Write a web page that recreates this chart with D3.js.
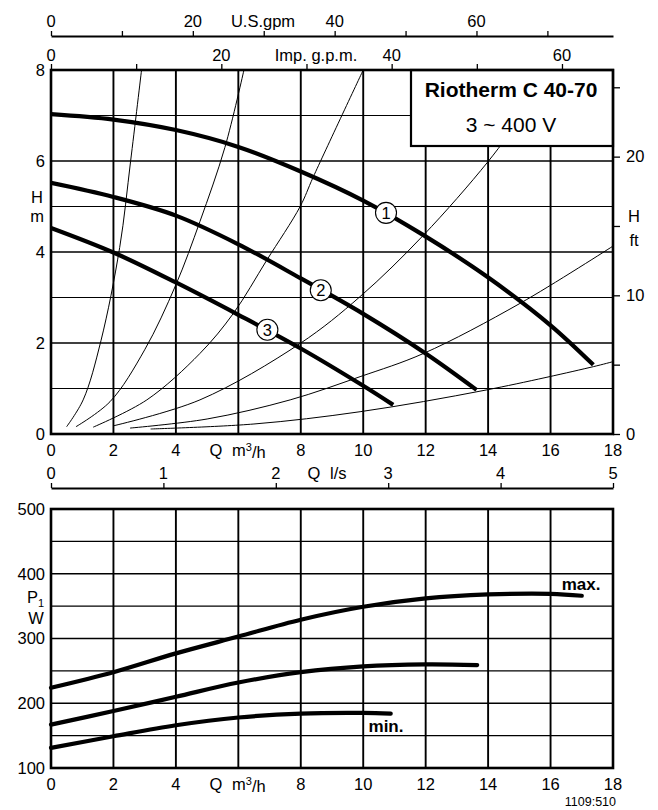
<!DOCTYPE html>
<html>
<head>
<meta charset="utf-8">
<script src="https://cdn.jsdelivr.net/npm/d3@7/dist/d3.min.js"></script>
<style>
    body { margin: 0; background: #fff; }
    svg { display: block; font-family: Arial, "Liberation Sans", Helvetica, sans-serif; }
</style>
</head>
<body>
<div id="chart"></div>
<script>
// --- Veriler ---
const flowTicks = [0, 2, 4, 6, 8, 10, 12, 14, 16, 18];
const flowLabels = ['0', '2', '4', '', '8', '10', '12', '14', '16', '18'];
const headGrid = [1, 2, 3, 4, 5, 6, 7];
const headLabels = [0, 2, 4, 6, 8];
const ftTicks = [0, 5, 10, 15, 20, 25];
const ftLabels = [0, 10, 20];
const usGpmTicks = [0, 10, 20, 30, 40, 50, 60, 70];
const usGpmLabels = [0, 20, 40, 60];
const impGpmTicks = [0, 10, 20, 30, 40, 50, 60];
const impGpmLabels = [0, 20, 40, 60];
const lsTicks = [0, 1, 2, 3, 4, 5];
const lsLabels = ['0', '1', '2', '3', '4', '5'];
const powerGrid = [150, 200, 250, 300, 350, 400, 450];
const powerLabels = [100, 200, 300, 400, 500];

// pompa eğrileri [Q m3/h, H m]
const pumpCurve1 = [[0, 7.03], [2, 6.91], [4, 6.68], [6, 6.31], [8, 5.77], [10, 5.13], [11.93, 4.37], [13.96, 3.46], [15.98, 2.40], [17.37, 1.52]];
const pumpCurve2 = [[0, 5.52], [2, 5.21], [4, 4.80], [6, 4.17], [8, 3.42], [10, 2.64], [12, 1.77], [13.63, 0.97]];
const pumpCurve3 = [[0, 4.53], [2, 3.99], [4, 3.33], [6, 2.62], [8, 1.88], [10, 1.06], [10.96, 0.64]];
const curveMarks = [{ id: '1', q: 10.73, h: 4.86 }, { id: '2', q: 8.64, h: 3.16 }, { id: '3', q: 6.93, h: 2.29 }];

// sistem eğrileri (ince)
const sysCurve1 = [[0.5, 0.16], [1.03, 0.75], [1.6, 2.05], [2.2, 4.1], [2.55, 6.0], [2.9, 8]];
const sysCurve2 = [[0.8, 0.16], [1.89, 0.71], [3, 1.85], [4, 3.28], [4.77, 4.67], [5.57, 6.3], [6.18, 8]];
const sysCurve3 = [[1.35, 0.15], [3.07, 0.75], [4.77, 1.77], [5.84, 2.65], [6.91, 3.82], [7.98, 5.0], [8.4, 5.65], [10.0, 8]];
const sysCurve4 = [[2.0, 0.18], [4.77, 0.75], [7.98, 1.99], [9.9, 3.02], [11.93, 4.37], [13.99, 5.98], [15.2, 7.1], [16.1, 8]];
const sysCurve5 = [[2.53, 0.13], [5, 0.33], [7.66, 0.75], [9.9, 1.26], [11.93, 1.77], [15.02, 2.87], [18, 4.13]];
const sysCurve6 = [[3.19, 0.11], [6.5, 0.22], [9.9, 0.49], [13.96, 0.97], [17.37, 1.48], [18, 1.59]];

// güç eğrileri [Q m3/h, P1 W]
const powerMax = [[0, 224], [2, 248], [4, 277], [6, 303], [8, 329], [10, 349], [12, 362], [14, 368], [16, 369], [17, 366]];
const powerMid = [[0, 167], [2, 188], [4, 210], [6, 232], [8, 248], [10, 257], [12, 260], [13.65, 259]];
const powerMin = [[0, 131], [2, 149], [4, 166], [6, 178], [8, 184], [10, 185], [10.88, 184]];

const FONT = '16.5px';

const svg = d3.select('#chart').append('svg').attr('width', 658).attr('height', 810);

// Ölçekler
const x = d3.scaleLinear().domain([0, 18]).range([51, 613]);
const yH = d3.scaleLinear().domain([0, 8]).range([434, 70]);
const yFt = d3.scaleLinear().domain([0, 8 / 0.3048]).range([434, 70]);
const xImp = d3.scaleLinear().domain([0, 18 * 3.6662]).range([51, 613]);
const xUs = d3.scaleLinear().domain([0, 18 * 4.4029]).range([51, 613]);
const xLs = d3.scaleLinear().domain([0, 5]).range([51, 613]);
const yP = d3.scaleLinear().domain([100, 500]).range([768, 509]);

function label(g, tx, ty, txt, anchor, size, weight) {
    return g.append('text').attr('x', tx).attr('y', ty).attr('dy', '0.35em')
        .attr('text-anchor', anchor || 'middle')
        .style('font-size', size || FONT).style('font-weight', weight || 'normal')
        .attr('fill', '#000').text(txt);
}

/* ---------- Üst grafik: H-Q ---------- */
const topG = svg.append('g');
topG.append('clipPath').attr('id', 'clipTop').append('rect')
    .attr('x', 51).attr('y', 70).attr('width', 562).attr('height', 364);

// grid
topG.selectAll('.hgrid').data(headGrid).enter().append('line')
    .attr('x1', 51).attr('x2', 613).attr('y1', d => yH(d)).attr('y2', d => yH(d))
    .attr('stroke', '#000').attr('stroke-width', d => d % 2 === 0 ? 1.7 : 1.2);
topG.selectAll('.vgrid').data(flowTicks.slice(1, -1)).enter().append('line')
    .attr('y1', 70).attr('y2', 434).attr('x1', d => x(d)).attr('x2', d => x(d))
    .attr('stroke', '#000').attr('stroke-width', 1.9);

const smooth = d3.curveCatmullRom.alpha(0.5);
const lineH = d3.line().x(d => x(d[0])).y(d => yH(d[1])).curve(smooth);
const plotTop = topG.append('g').attr('clip-path', 'url(#clipTop)');
plotTop.selectAll('.sys').data([sysCurve1, sysCurve2, sysCurve3, sysCurve4, sysCurve5, sysCurve6]).enter()
    .append('path').attr('d', lineH).attr('fill', 'none').attr('stroke', '#000').attr('stroke-width', 1);
plotTop.selectAll('.pump').data([pumpCurve1, pumpCurve2, pumpCurve3]).enter()
    .append('path').attr('d', lineH).attr('fill', 'none').attr('stroke', '#000')
    .attr('stroke-width', 4.2).attr('stroke-linecap', 'butt');

// eğri numaraları
const marks = topG.selectAll('.mark').data(curveMarks).enter().append('g')
    .attr('transform', d => `translate(${x(d.q)},${yH(d.h)})`);
marks.append('circle').attr('r', 10.5).attr('fill', '#fff').attr('stroke', '#000').attr('stroke-width', 1.1);
marks.append('text').attr('text-anchor', 'middle').attr('dy', '0.36em').style('font-size', FONT).text(d => d.id);

// başlık kutusu
topG.append('rect').attr('x', 411).attr('y', 70).attr('width', 202).attr('height', 76)
    .attr('fill', '#fff').attr('stroke', '#000').attr('stroke-width', 2.2);
label(topG, 511, 90, 'Riotherm C 40-70', 'middle', '21px', 'bold');
label(topG, 511, 125, '3 ~ 400 V', 'middle', '21px');

// çerçeve
topG.append('rect').attr('x', 51).attr('y', 70).attr('width', 562).attr('height', 364)
    .attr('fill', 'none').attr('stroke', '#000').attr('stroke-width', 2.6);

// Imp. g.p.m. (üst kenar)
const impAxis = topG.append('g').attr('transform', 'translate(0,70)')
    .call(d3.axisTop(xImp).tickValues(impGpmTicks).tickSize(6).tickSizeOuter(0).tickFormat(''));
impAxis.select('.domain').remove();
impAxis.selectAll('line').attr('stroke-width', 1.3);
impGpmLabels.forEach(v => label(topG, xImp(v), 55, v));
label(topG, 316, 55, 'Imp. g.p.m.');

// U.S. gpm
const usAxis = topG.append('g').attr('transform', 'translate(0,36)')
    .call(d3.axisTop(xUs).tickValues(usGpmTicks).tickSize(5).tickSizeOuter(0).tickFormat(''));
usAxis.select('.domain').attr('stroke-width', 1.8);
usAxis.selectAll('line').attr('stroke-width', 1.3);
usGpmLabels.forEach(v => label(topG, xUs(v), 21, v));
label(topG, 263, 21, 'U.S.gpm');

// sağ eksen (ft)
const ftAxis = topG.append('g').attr('transform', 'translate(613,0)')
    .call(d3.axisRight(yFt).tickValues(ftTicks).tickSize(7).tickFormat(''));
ftAxis.select('.domain').remove();
ftAxis.selectAll('line').attr('stroke-width', 1.3);
ftLabels.forEach(v => label(topG, 626, yFt(v), v, 'start'));
label(topG, 634, 216, 'H');
label(topG, 634, 240, 'ft');

// sol eksen (m)
headLabels.forEach(v => label(topG, 45, yH(v), v, 'end'));
label(topG, 37, 197, 'H');
label(topG, 37, 216, 'm');

// alt etiketler m3/h
flowTicks.forEach((v, i) => label(topG, x(v), 450, flowLabels[i]));
function flowUnit(g, yy) {
    label(g, 216, yy, 'Q');
    const t = g.append('text').attr('x', 232).attr('y', yy).attr('dy', '0.35em').style('font-size', FONT);
    t.append('tspan').text('m');
    t.append('tspan').attr('dy', '-0.45em').style('font-size', '11px').text('3');
    t.append('tspan').attr('dy', '0.45em').text('/h');
}
flowUnit(topG, 450);

// l/s ekseni
const lsAxis = topG.append('g').attr('transform', 'translate(0,488)')
    .call(d3.axisTop(xLs).tickValues(lsTicks).tickSize(5).tickSizeOuter(0).tickFormat(''));
lsAxis.select('.domain').attr('stroke-width', 2);
lsAxis.selectAll('line').attr('stroke-width', 1.3);
lsTicks.forEach((v, i) => label(topG, xLs(v), 473, lsLabels[i]));
label(topG, 314, 473, 'Q');
label(topG, 330, 473, 'l/s', 'start');

/* ---------- Alt grafik: P1-Q ---------- */
const botG = svg.append('g');
botG.selectAll('.pgrid').data(powerGrid).enter().append('line')
    .attr('x1', 51).attr('x2', 613).attr('y1', d => yP(d)).attr('y2', d => yP(d))
    .attr('stroke', '#000').attr('stroke-width', d => d % 100 === 0 ? 1.7 : 1.2);
botG.selectAll('.vgrid').data(flowTicks.slice(1, -1)).enter().append('line')
    .attr('y1', 509).attr('y2', 768).attr('x1', d => x(d)).attr('x2', d => x(d))
    .attr('stroke', '#000').attr('stroke-width', 1.9);

const lineP = d3.line().x(d => x(d[0])).y(d => yP(d[1])).curve(smooth);
botG.selectAll('.power').data([powerMax, powerMid, powerMin]).enter()
    .append('path').attr('d', lineP).attr('fill', 'none').attr('stroke', '#000')
    .attr('stroke-width', 4.2).attr('stroke-linecap', 'round');

botG.append('rect').attr('x', 51).attr('y', 509).attr('width', 562).attr('height', 259)
    .attr('fill', 'none').attr('stroke', '#000').attr('stroke-width', 2.6);

label(botG, 581, 584, 'max.', 'middle', '17px', 'bold');
label(botG, 386, 726, 'min.', 'middle', '17px', 'bold');

powerLabels.forEach(v => label(botG, 45, yP(v), v, 'end'));
const pLab = botG.append('text').attr('x', 27).attr('y', 597).attr('dy', '0.35em').style('font-size', FONT);
pLab.append('tspan').text('P');
pLab.append('tspan').attr('dy', '0.35em').style('font-size', '11px').text('1');
label(botG, 36, 618, 'W');

flowTicks.forEach((v, i) => label(botG, x(v), 784, flowLabels[i]));
flowUnit(botG, 784);

label(botG, 616, 802, '1109:510', 'end', '12.5px');
</script>
</body>
</html>
